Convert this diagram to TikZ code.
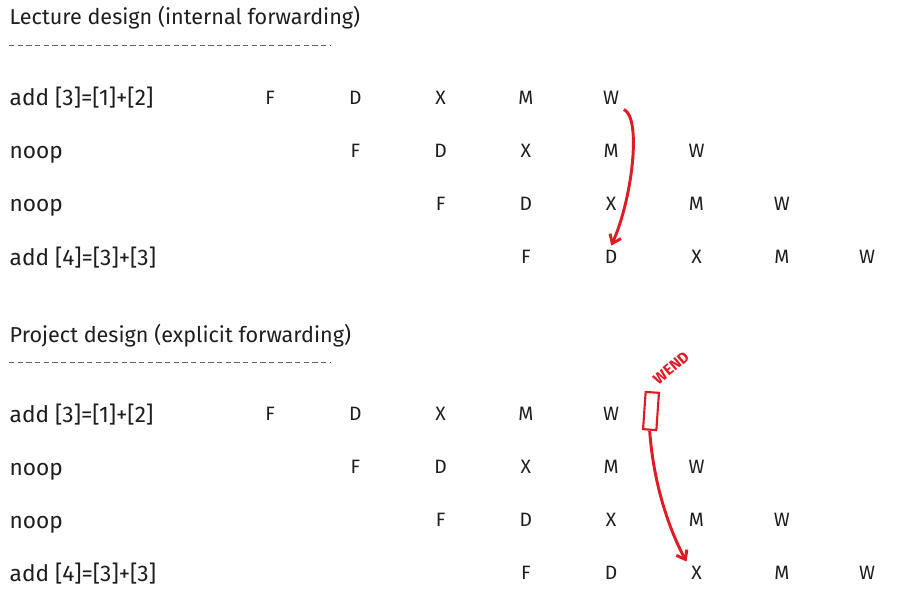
\documentclass[tikz,border=0pt]{standalone}
\usepackage{fontspec}
\setmainfont{Fira Sans}
\usepackage{tikz}
\usetikzlibrary{arrows.meta}
\usepackage{xcolor}
\definecolor{penred}{RGB}{224,27,36}
\definecolor{ink}{RGB}{30,30,30}

\begin{document}
\begin{tikzpicture}[x=0.75pt, y=-0.75pt, ink,
  title/.style={anchor=base west, font=\fontsize{16.2}{19}\selectfont},
  instr/.style={anchor=base west, font=\fontsize{17}{20}\selectfont},
  stg/.style={font=\fontsize{14.5}{17}\selectfont},
  rule/.style={draw=ink!70, line width=0.6pt, dash pattern=on 4pt off 2.5pt},
  fwd/.style={draw=penred, line width=2.2pt, -{Straight Barb[length=6pt, width=9pt]}}]
  \useasboundingbox (0,0) rectangle (898,602);

  % lecture design
  \node[title] (ttop) at (5,25) {Lecture design (internal forwarding)};
  \draw[rule] (9,45) -- (330,45);
  \node[instr] (a1) at (5,106) {add [3]=[1]+[2]};
  \node[instr] (a2) at (5,159) {noop};
  \node[instr] (a3) at (5,212) {noop};
  \node[instr] (a4) at (5,265) {add [4]=[3]+[3]};
  \foreach \r/\y/\c in {1/98/0, 2/151/1, 3/204/2, 4/257/3} {
    \foreach \s [count=\i from 0] in {F,D,X,M,W} {
      \node[stg] (a\r\s) at ({270+85.3*(\c+\i)},\y) {\s};
    }
  }
  \draw[fwd] (a1W.south east) .. controls (642,118) and (632,200) .. (a4D.north);

  % project design
  \node[title] (tbot) at (5,342) {Project design (explicit forwarding)};
  \draw[rule] (9,362) -- (330,362);
  \node[instr] (b1) at (5,422) {add [3]=[1]+[2]};
  \node[instr] (b2) at (5,475) {noop};
  \node[instr] (b3) at (5,528) {noop};
  \node[instr] (b4) at (5,581) {add [4]=[3]+[3]};
  \foreach \r/\y/\c in {1/414/0, 2/467/1, 3/520/2, 4/573/3} {
    \foreach \s [count=\i from 0] in {F,D,X,M,W} {
      \node[stg] (b\r\s) at ({270+85.3*(\c+\i)},\y) {\s};
    }
  }
  \node[draw=penred, line width=1.6pt, minimum width=10pt, minimum height=28pt, rotate=-4] (wbox) at (651,411) {};
  \node[penred, inner sep=0pt, font=\bfseries\fontsize{11.5}{13}\selectfont, rotate=40] (wend) at (671,368) {WEND};
  \draw[fwd] (wbox.south) .. controls (654,490) and (672,535) .. (b4X.north west);
\end{tikzpicture}
\end{document}
